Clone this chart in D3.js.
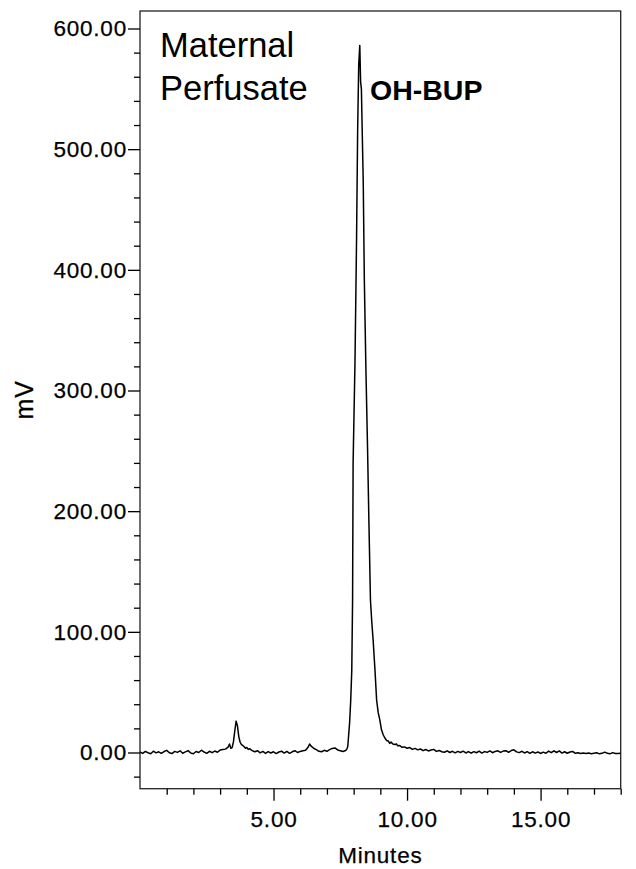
<!DOCTYPE html>
<html><head><meta charset="utf-8">
<script src="https://cdn.jsdelivr.net/npm/d3@7"></script>
<style>
html,body{margin:0;padding:0;background:#fff;}
text{font-family:"Liberation Sans",Arial,sans-serif;fill:#000;}
</style></head>
<body>
<svg id="chart" width="636" height="869"></svg>
<script>
// ---- data ----
const times = [
  0.0,0.1,0.2,0.3,0.4,0.5,0.6,0.7,0.8,0.9,
  1.0,1.1,1.2,1.3,1.4,1.5,1.6,1.7,1.8,1.9,
  2.0,2.1,2.2,2.3,2.4,2.5,2.6,2.7,2.8,2.9,
  3.0,3.1,3.2,
  3.3,3.35,3.4,3.45,3.5,3.55,3.6,3.65,3.7,3.75,
  3.8,3.85,3.9,3.95,4.0,4.05,4.1,4.2,4.3,4.4,
  4.5,4.6,4.7,4.8,4.9,5.0,5.1,5.2,5.3,5.4,
  5.5,5.6,5.7,5.8,5.9,6.0,6.1,
  6.2,6.3,6.35,6.4,6.5,6.6,6.7,6.8,6.9,7.0,
  7.1,7.2,7.3,7.4,7.5,7.6,7.7,7.75,
  7.78,7.85,7.89,7.93,7.96,7.98,8.05,8.11,8.15,8.19,
  8.23,8.26,8.29,8.32,8.36,8.40,8.46,8.52,8.57,8.63,
  8.68,8.73,8.80,8.86,8.92,8.98,9.04,9.11,9.17,9.23,
  9.3,9.35,9.4,9.47,9.55,9.6,9.65,9.73,9.8,9.9,
  10.0,10.1,10.2,10.3,10.4,10.5,10.6,10.7,10.8,10.9,
  11.0,11.1,11.2,11.3,11.4,11.5,11.6,11.7,11.8,11.9,
  12.0,12.1,12.2,12.3,12.4,12.5,12.6,12.7,12.8,12.9,
  13.0,13.1,13.2,13.3,13.4,13.5,13.6,13.7,13.8,13.9,
  14.0,14.1,14.2,14.3,14.4,14.5,14.6,14.7,14.8,14.9,
  15.0,15.1,15.2,15.3,15.4,15.5,15.6,15.7,15.8,15.9,
  16.0,16.1,16.2,16.3,16.4,16.5,16.6,16.7,16.8,16.9,
  17.0,17.1,17.2,17.3,17.4,17.5,17.6,17.7,17.8,17.9,
  18.0
];
const mV = [
  0.4,-0.8,0.9,-0.2,-1.0,1.1,-0.3,0.6,-0.7,0.8,
  1.8,-0.2,-0.9,0.9,0.1,1.4,-0.6,0.5,1.6,-0.4,
  -1.0,0.8,0.0,1.9,0.4,-0.7,1.0,-0.1,1.2,0.2,
  2.0,2.4,2.8,
  4.5,7,3.5,4,9,18,26,22,13,8.5,
  6.5,5.8,4.8,3.5,4.2,2.6,3.2,1.6,0.6,1.5,
  -0.3,0.9,-0.8,0.8,-0.4,0.6,-0.9,0.4,1.1,-0.5,
  0.9,-0.7,0.6,1.5,0.0,0.9,1.4,
  1.8,4.5,7,5.5,3.5,2.4,1.0,0.6,1.8,1.0,
  2.4,3.4,3.8,2.1,1.5,0.9,1.6,3,
  5,25,43,68,126,240,323,427,516,570,
  586,556,550,516,472,392,317,253,193,126,
  108,93,68,43.5,33,27,19,14.5,12,10,
  9.5,7.5,8.6,7,6.6,7.2,5.5,5.8,4.4,4.6,
  3.5,4.1,2.6,3.4,2.2,2.9,1.5,2.5,1.3,2.1,
  2.6,0.9,1.7,0.6,0.2,1.4,0.0,1.0,-0.3,0.9,
  0.0,1.1,-0.4,0.8,-0.6,0.7,-0.2,1.1,-0.5,0.8,
  0.1,1.3,-0.2,0.9,1.4,0.1,1.2,1.5,0.2,1.6,
  2.2,0.5,-0.1,1.0,-0.4,0.7,-0.7,0.6,-0.5,0.4,
  -0.8,0.3,-0.6,1.2,-0.1,1.4,0.0,1.3,-0.5,0.6,
  -0.6,0.4,0.9,-0.7,-0.2,-0.8,-0.4,-0.9,-0.5,-1.0,
  -0.6,-0.2,-1.1,-0.7,0.3,-0.6,-1.1,-0.1,-0.8,-0.9,
  -0.7
];
const yMajorTicks = [0,100,200,300,400,500,600];
const yTickLabels = ["0.00","100.00","200.00","300.00","400.00","500.00","600.00"];
const yMinorTicks = [-20,20,40,60,80,120,140,160,180,220,240,260,280,320,340,360,380,420,440,460,480,520,540,560,580];
const xMajorTicks = [5,10,15];
const xTickLabels = ["5.00","10.00","15.00"];
const xMinorTicks = [1,2,3,4,6,7,8,9,11,12,13,14,16,17,18];
const xTitle = "Minutes";
const yTitle = "mV";
const sampleLines = ["Maternal","Perfusate"];
const peakLabel = "OH-BUP";

// ---- layout ----
const L = 140, R = 620.7, T = 11, B = 788.7;
const svg = d3.select("#chart");
const x = d3.scaleLinear().domain([0,18]).range([L,R]);
const y = d3.scaleLinear().domain([-30,614.5]).range([B,T]);

const data = times.map((t,i)=>({t, v:mV[i]}));

svg.append("defs").append("clipPath").attr("id","clip")
  .append("rect").attr("x",L).attr("y",T).attr("width",R-L).attr("height",B-T);

// frame
svg.append("rect").attr("x",L).attr("y",T).attr("width",R-L).attr("height",B-T)
  .attr("fill","none").attr("stroke","#222").attr("stroke-width",1.3);

const labFont = "22.5px";
// y axis major
const gy = svg.append("g").attr("transform",`translate(${L},0)`)
  .call(d3.axisLeft(y).tickValues(yMajorTicks).tickSize(12).tickPadding(1)
    .tickFormat((d,i)=>yTickLabels[i]));
gy.select(".domain").remove();
gy.selectAll("line").attr("stroke","#000").attr("stroke-width",1.3);
gy.selectAll("text").attr("font-size",labFont).attr("letter-spacing","0.8px")
  .attr("font-family","Liberation Sans, Arial, sans-serif").attr("fill","#000")
  .attr("stroke","#000").attr("stroke-width",0.25);
// y axis minor
const gym = svg.append("g").attr("transform",`translate(${L},0)`)
  .call(d3.axisLeft(y).tickValues(yMinorTicks).tickSize(6).tickFormat(""));
gym.select(".domain").remove();
gym.selectAll("line").attr("stroke","#000").attr("stroke-width",1.3);

// x axis major
const gx = svg.append("g").attr("transform",`translate(0,${B})`)
  .call(d3.axisBottom(x).tickValues(xMajorTicks).tickSize(12).tickPadding(10)
    .tickFormat((d,i)=>xTickLabels[i]));
gx.select(".domain").remove();
gx.selectAll("line").attr("stroke","#000").attr("stroke-width",1.3);
gx.selectAll("text").attr("font-size",labFont).attr("letter-spacing","0.8px")
  .attr("font-family","Liberation Sans, Arial, sans-serif").attr("fill","#000")
  .attr("stroke","#000").attr("stroke-width",0.25);
// x axis minor
const gxm = svg.append("g").attr("transform",`translate(0,${B})`)
  .call(d3.axisBottom(x).tickValues(xMinorTicks).tickSize(6).tickFormat(""));
gxm.select(".domain").remove();
gxm.selectAll("line").attr("stroke","#000").attr("stroke-width",1.3);

// trace
const line = d3.line().x(d=>x(d.t)).y(d=>y(d.v)).curve(d3.curveLinear);
svg.append("path").datum(data).attr("clip-path","url(#clip)")
  .attr("d",line).attr("fill","none").attr("stroke","#000")
  .attr("stroke-width",1.5).attr("stroke-linejoin","round");

// titles
svg.append("text").attr("x",(L+R)/2).attr("y",863).attr("text-anchor","middle")
  .attr("font-size","22.5px").attr("letter-spacing","0.8px")
  .attr("stroke","#000").attr("stroke-width",0.25).text(xTitle);
svg.append("text").attr("transform",`translate(33,${(T+B)/2}) rotate(-90)`)
  .attr("text-anchor","middle").attr("font-size","25px").attr("letter-spacing","1px")
  .attr("stroke","#000").attr("stroke-width",0.25).text(yTitle);

// annotations
svg.selectAll("text.sample").data(sampleLines).enter().append("text")
  .attr("class","sample").attr("x",160).attr("y",(d,i)=>57+i*42.5)
  .attr("font-size","34.5px").text(d=>d);
svg.append("text").attr("x",370).attr("y",99.5).attr("font-size","28.5px")
  .attr("font-weight","bold").text(peakLabel);
</script>
</body></html>
